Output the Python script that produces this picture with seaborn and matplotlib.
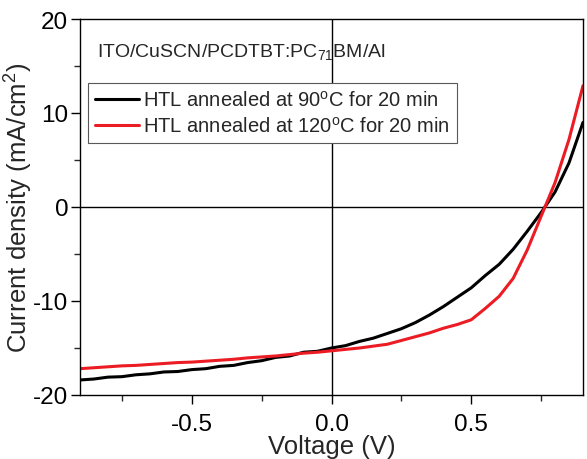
import numpy as np
import pandas as pd
import matplotlib
matplotlib.use('Agg')
import matplotlib.pyplot as plt
import seaborn as sns
from matplotlib.ticker import MultipleLocator

# ===== data =====
voltage = [-0.90, -0.85, -0.80, -0.75, -0.70, -0.65, -0.60, -0.55, -0.50, -0.45,
           -0.40, -0.35, -0.30, -0.25, -0.20, -0.15, -0.10, -0.05, 0.00, 0.05,
           0.10, 0.15, 0.20, 0.25, 0.30, 0.35, 0.40, 0.45, 0.50, 0.55,
           0.60, 0.65, 0.70, 0.75, 0.80, 0.85, 0.90]

j_90c = [-18.4, -18.3, -18.1, -18.05, -17.85, -17.75, -17.55, -17.5, -17.3, -17.2,
         -16.95, -16.85, -16.55, -16.35, -16.0, -15.85, -15.45, -15.35, -15.0, -14.75,
         -14.3, -13.95, -13.45, -12.95, -12.3, -11.5, -10.6, -9.6, -8.6, -7.3,
         -6.1, -4.5, -2.6, -0.6, 1.6, 4.7, 9.0]

j_120c = [-17.2, -17.1, -17.0, -16.9, -16.85, -16.75, -16.65, -16.55, -16.5, -16.4,
          -16.3, -16.2, -16.05, -15.95, -15.85, -15.7, -15.55, -15.45, -15.3, -15.15,
          -15.0, -14.8, -14.6, -14.2, -13.8, -13.4, -12.9, -12.5, -12.0, -10.8,
          -9.5, -7.6, -4.6, -1.0, 2.6, 7.2, 12.9]

labels = ['HTL annealed at 90$^{\\mathrm{o}}$C for 20 min',
          'HTL annealed at 120$^{\\mathrm{o}}$C for 20 min']
colors = ['black', '#ec1c24']

df = pd.DataFrame({
    'V': voltage * 2,
    'J': j_90c + j_120c,
    'sample': [labels[0]] * len(voltage) + [labels[1]] * len(voltage),
})

# ===== style =====
sns.set_style('ticks')
plt.rcParams['font.family'] = ['Liberation Sans', 'DejaVu Sans']
plt.rcParams['mathtext.fontset'] = 'custom'
plt.rcParams['mathtext.rm'] = 'Liberation Sans'
plt.rcParams['mathtext.it'] = 'Liberation Sans:italic'
plt.rcParams['axes.unicode_minus'] = False

fig = plt.figure(figsize=(5.87, 4.60), dpi=100)
ax = fig.add_axes([80 / 587, 1 - 396 / 460, 503 / 587, 376 / 460])

sns.lineplot(data=df, x='V', y='J', hue='sample', palette=colors,
             linewidth=2.2, ax=ax, sort=False)

# zero lines
ax.axhline(0, color='black', linewidth=1.0, zorder=1)
ax.axvline(0, color='black', linewidth=1.0, zorder=1)

ax.set_xlim(-0.9, 0.9)
ax.set_ylim(-20, 20)
ax.xaxis.set_major_locator(MultipleLocator(0.5))
ax.xaxis.set_minor_locator(MultipleLocator(0.25))
ax.yaxis.set_major_locator(MultipleLocator(10))
ax.yaxis.set_minor_locator(MultipleLocator(5))
ax.tick_params(which='major', direction='out', length=6.5, width=1.0,
               labelsize=17.5, colors='black')
ax.tick_params(which='minor', direction='out', length=4.3, width=1.0)
ax.tick_params(axis='x', which='major', pad=6.5)
ax.tick_params(axis='y', which='major', pad=2)
for s in ax.spines.values():
    s.set_visible(True)
    s.set_linewidth(1.0)
    s.set_color('black')

ax.set_xlabel('Voltage (V)', fontsize=18.5, labelpad=-0.5)
ax.set_ylabel('Current density (mA/cm$^2$)', fontsize=18.5)
ax.yaxis.set_label_coords(-45 / 503, 0.5)

ax.text(17 / 503, (396 - 52) / 376, 'ITO/CuSCN/PCDTBT:PC$_{71}$BM/Al',
        transform=ax.transAxes, fontsize=14, va='center', ha='left')

leg = ax.legend(loc='upper left', bbox_to_anchor=(8 / 503, (396 - 84) / 376),
                borderaxespad=0, fontsize=14.5, handlelength=2.2,
                handletextpad=0.2, borderpad=0.35, labelspacing=0.3,
                fancybox=False, framealpha=1, title=None)
leg.get_frame().set_edgecolor('0.35')
leg.get_frame().set_linewidth(0.8)
for line in leg.get_lines():
    line.set_linewidth(2.2)

fig.savefig('out.png', dpi=100)
